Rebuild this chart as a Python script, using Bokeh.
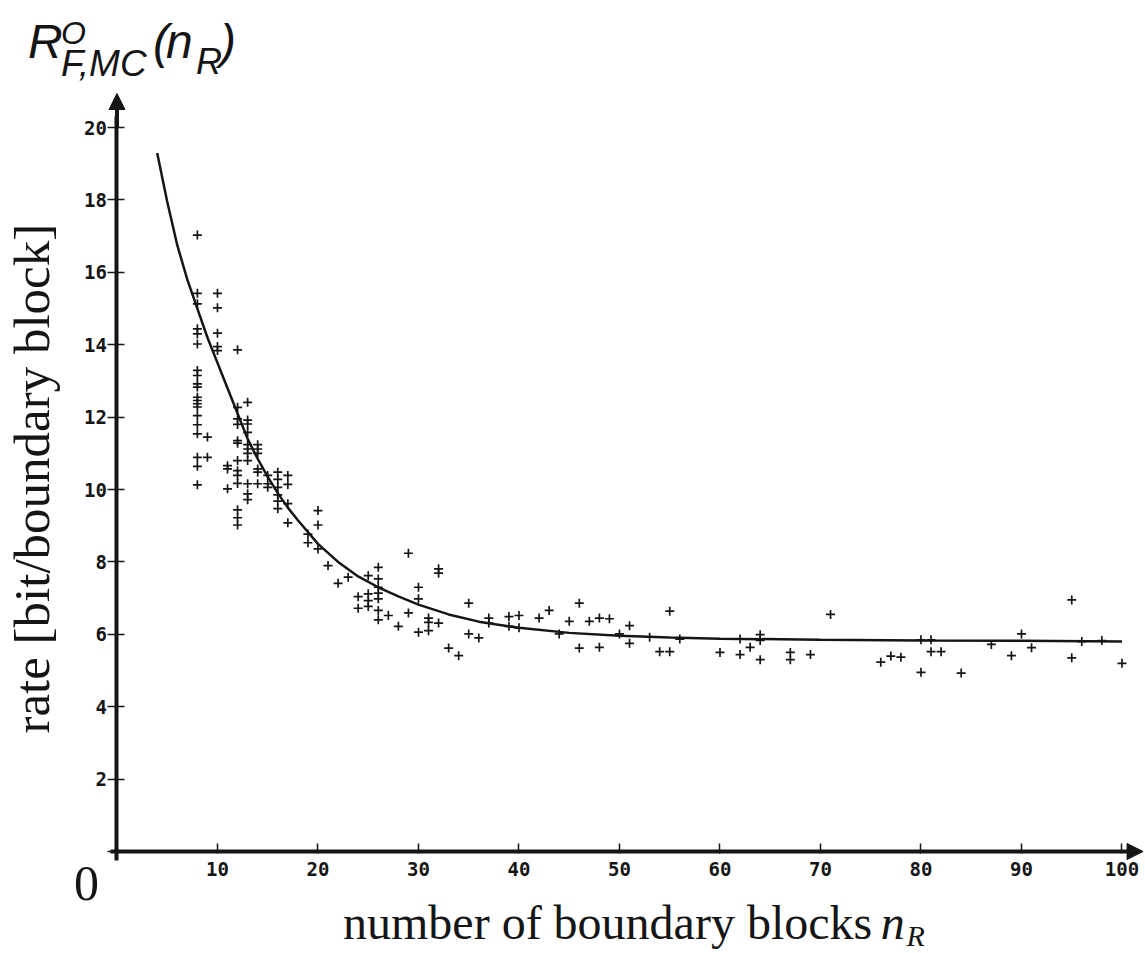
import math
from bokeh.plotting import figure
from bokeh.models import Range1d, FixedTicker, Label, Arrow, NormalHead
from bokeh.embed import file_html
from bokeh.resources import INLINE

# ---- data ----
x_ticks = [0, 10, 20, 30, 40, 50, 60, 70, 80, 90, 100]
y_ticks = [0, 2, 4, 6, 8, 10, 12, 14, 16, 18, 20]

pts_x = ([8] * 20 + [9] * 2 + [10] * 5 + [11] * 3 + [12] * 13 + [13] * 11 +
         [14] * 6 + [15] * 3 + [16] * 6 + [17] * 4 + [19] * 2 + [20] * 3 +
         [21, 22, 23, 24, 24, 25, 25, 25, 25] + [26] * 7 +
         [27, 28, 29, 29, 30, 30, 30, 31, 31, 31, 32, 32, 32, 33, 34, 35, 35,
          36, 37, 37, 39, 39, 40, 40, 42, 43, 44, 45, 46, 46, 47, 48, 48, 49,
          50, 51, 51, 53, 54, 55, 55, 56, 60, 62, 62, 63, 64, 64, 64, 67, 67,
          69, 71, 76, 77, 78, 80, 80, 81, 81, 82, 84, 87, 89, 90, 91, 95, 95,
          96, 98, 100])
pts_y = [17.03, 15.42, 15.13, 14.44, 14.30, 14.02, 13.29, 13.15, 12.92, 12.83,
         12.55, 12.46, 12.37, 12.28, 12.04, 11.79, 11.54, 10.89, 10.64, 10.13,
         11.45, 10.89,
         15.42, 15.02, 14.32, 13.95, 13.84,
         10.66, 10.57, 10.02,
         13.86, 12.27, 11.95, 11.80, 11.35, 11.28, 10.80, 10.52, 10.39, 10.17,
         9.44, 9.22, 9.02,
         12.41, 11.92, 11.81, 11.58, 11.24, 11.12, 11.00, 10.80, 10.16, 9.88, 9.72,
         11.24, 11.12, 11.00, 10.57, 10.48, 10.16,
         10.39, 10.16, 10.06,
         10.48, 10.28, 10.06, 9.85, 9.68, 9.47,
         10.39, 10.14, 9.61, 9.08,
         8.77, 8.53,
         9.42, 9.02, 8.36,
         7.90, 7.41, 7.58, 7.04, 6.72, 7.62, 7.12, 6.93, 6.77,
         7.85, 7.53, 7.30, 7.14, 6.98, 6.66, 6.40,
         6.52, 6.22, 8.24, 6.59, 7.30, 6.98, 6.06, 6.45, 6.33, 6.10, 7.81, 7.69,
         6.31, 5.62, 5.41, 6.86, 6.01, 5.90, 6.45, 6.31, 6.49, 6.22, 6.52, 6.18,
         6.45, 6.66, 6.01, 6.36, 6.86, 5.62, 6.36, 6.45, 5.64, 6.43, 6.01, 6.24,
         5.75, 5.92, 5.52, 6.64, 5.52, 5.87, 5.50, 5.87, 5.44, 5.64, 5.99, 5.83,
         5.30, 5.50, 5.30, 5.44, 6.55, 5.23, 5.40, 5.37, 5.85, 4.95, 5.85, 5.52,
         5.52, 4.93, 5.72, 5.41, 6.01, 5.63, 6.95, 5.35, 5.80, 5.83, 5.20]

curve_x = [4, 5, 6, 7, 8, 9, 10, 11, 12, 13, 14, 15, 16, 17, 18, 20, 22, 24, 26,
           28, 30, 33, 36, 40, 45, 50, 55, 60, 70, 80, 90, 100]
curve_y = [19.3, 17.95, 16.75, 15.8, 15.0, 14.2, 13.5, 12.8, 12.1, 11.4, 10.85,
           10.35, 9.9, 9.5, 9.15, 8.5, 8.0, 7.6, 7.3, 7.05, 6.82, 6.55, 6.35,
           6.18, 6.04, 5.96, 5.91, 5.88, 5.85, 5.83, 5.82, 5.80]

INK = "#151515"
PX_PER_Y = 36.2   # pixels per y unit (used only to place text baselines)

# frame covers the whole canvas; axes are drawn at x=0 / y=0 via fixed_location
p = figure(width=1144, height=952, output_backend="svg", toolbar_location=None,
           x_range=Range1d(-11.59, 102.24), y_range=Range1d(-2.79, 23.51),
           min_border=0)
p.grid.visible = False
p.outline_line_color = None
p.background_fill_color = "white"
p.border_fill_color = "white"

for ax, ticks, bounds, tin, tout, standoff in (
        (p.xaxis[0], x_ticks, (-0.6, 101.0), 8, 2, 8),
        (p.yaxis[0], y_ticks, (-0.25, 20.3), 8, 9, 1)):
    ax.fixed_location = 0
    ax.bounds = bounds
    ax.ticker = FixedTicker(ticks=ticks)
    ax.major_label_overrides = {0: ""}
    ax.axis_line_width = 4
    ax.axis_line_color = INK
    ax.major_tick_line_width = 1.5
    ax.major_tick_line_color = INK
    ax.major_tick_in = tin
    ax.major_tick_out = tout
    ax.minor_tick_line_color = None
    ax.major_label_standoff = standoff
    ax.major_label_text_font = "DejaVu Sans Mono"
    ax.major_label_text_font_style = "bold"
    ax.major_label_text_font_size = "19px"
    ax.major_label_text_color = INK

p.line(curve_x, curve_y, line_width=2.5, line_color=INK)
p.scatter(pts_x, pts_y, marker="cross", size=9, line_width=1.7, line_color=INK)

# arrow heads on axes
p.add_layout(Arrow(end=NormalHead(size=16, fill_color=INK, line_color=INK),
                   x_start=0, y_start=20.0, x_end=0, y_end=20.94,
                   line_width=4, line_color=INK))
p.add_layout(Arrow(end=NormalHead(size=16, fill_color=INK, line_color=INK),
                   x_start=100.5, y_start=0, x_end=102.1, y_end=0,
                   line_width=4, line_color=INK))

def lab(text, x, y, size, font="Liberation Serif", style="normal"):
    # y is the wanted baseline; shift for how the renderer seats 'alphabetic'
    y_fix = y + 0.4 * size / PX_PER_Y
    p.add_layout(Label(x=x, y=y_fix, text=text, text_font=font,
                       text_font_size=f"{size}px", text_font_style=style,
                       text_color=INK, text_baseline="alphabetic"))

# vertical axis title
p.add_layout(Label(x=-8.5, y=10.3, text="rate [bit/boundary block]",
                   text_font="Liberation Serif", text_font_size="51px",
                   text_color=INK, angle=math.pi / 2,
                   text_align="center", text_baseline="middle"))

# horizontal axis title
lab("number of boundary blocks", 22.49, -2.505, 48)
lab("n", 76.0, -2.505, 48, style="italic")
lab("R", 78.55, -2.66, 30, style="italic")
lab("0", -4.28, -1.44, 50)

# top formula label R^O_{F,MC}(n_R)
S = "Liberation Sans"
lab("R", -8.86, 21.85, 48, font=S, style="italic")
lab("O", -5.57, 22.27, 32, font=S, style="italic")
lab("F,MC", -5.57, 21.35, 37, font=S, style="italic")
lab("(", 3.58, 21.85, 48, font=S, style="italic")
lab("n", 4.88, 21.85, 48, font=S, style="italic")
lab("R", 7.86, 21.44, 36, font=S, style="italic")
lab(")", 10.25, 21.85, 48, font=S, style="italic")

open("out.html", "w").write(file_html(p, INLINE))
